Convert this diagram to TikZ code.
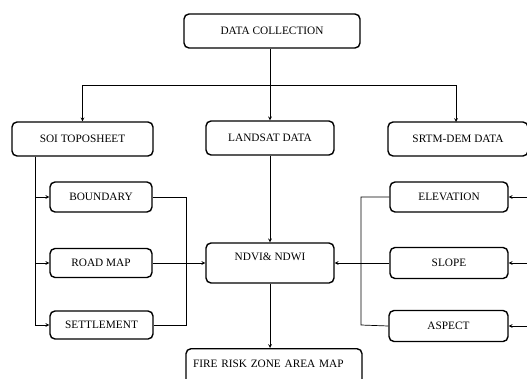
\documentclass[tikz,border=0pt]{standalone}
\usepackage{fontspec}
\setmainfont{Liberation Serif}
\usepackage{tikz}

\begin{document}
\begin{tikzpicture}[x=1pt,y=-1pt,
        box/.style={draw,line width=1.4pt,rounded corners=5pt,inner sep=0pt,
            font=\fontsize{11.3}{13}\selectfont},
        line/.style={line width=0.7pt},
        arr/.style={line,-stealth}]
        \pgfmathsetmacro\lbus{35}
        \pgfmathsetmacro\lmid{186}
        \pgfmathsetmacro\rmid{361}
        \pgfmathsetmacro\rbus{530}
        \useasboundingbox (0,0) rectangle (527,378);
        \node[box,minimum width=176pt,minimum height=34pt] (DC) at (272,31) {DATA COLLECTION};
        \node[box,minimum width=141pt,minimum height=34pt] (SOI) at (82.5,139) {SOI TOPOSHEET};
        \node[box,minimum width=128pt,minimum height=34pt] (LAND) at (270,138) {LANDSAT DATA};
        \node[box,minimum width=140pt,minimum height=34pt] (SRTM) at (458,139) {SRTM-DEM DATA};
        \node[box,minimum width=102pt,minimum height=30pt] (BOUND) at (101,197) {BOUNDARY};
        \node[box,minimum width=102pt,minimum height=29pt] (ROAD) at (101,263) {ROAD MAP};
        \node[box,minimum width=103pt,minimum height=28pt] (SETTLE) at (101.5,325) {SETTLEMENT};
        \node[box,minimum width=128pt,minimum height=40pt,text depth=12pt] (NDVI) at (270,263) {NDVI\& NDWI};
        \node[box,minimum width=118pt,minimum height=30pt] (ELEV) at (449,197) {ELEVATION};
        \node[box,minimum width=118pt,minimum height=31pt] (SLOPE) at (449,263) {SLOPE};
        \node[box,minimum width=119pt,minimum height=31pt] (ASPECT) at (448.5,326) {ASPECT};
        \node[box,anchor=north,minimum width=176pt,minimum height=44pt,text width=162pt,
            align=left,text depth=14pt] (FIRE) at (274,348) {FIRE RISK ZONE AREA MAP};
        \coordinate (split) at (270,85);
        % top level
        \draw[line] (DC.south -| split) -- (split);
        \draw[arr] (split) -- (LAND.north);
        \draw[arr] (split) -| (SOI.north);
        \draw[arr] (split) -| (456,122);
        % toposheet layers
        \draw[arr] (SOI.south -| \lbus,0) |- (BOUND.west);
        \draw[arr] (SOI.south -| \lbus,0) |- (ROAD.west);
        \draw[arr] (SOI.south -| \lbus,0) |- (SETTLE.west);
        \draw[line] (BOUND.east) -| (\lmid,325) -- (SETTLE.east);
        \draw[arr] (ROAD.east) -- (NDVI.west);
        % dem layers
        \draw[arr] (ELEV.east -| \rbus,0) -- (ELEV.east);
        \draw[arr] (SLOPE.east -| \rbus,0) -- (SLOPE.east);
        \draw[arr] (ASPECT.east -| \rbus,0) -- (ASPECT.east);
        \draw[line] (ELEV.west) -| (\rmid,325) -- (ASPECT.west);
        \draw[arr] (SLOPE.west) -- (NDVI.east);
        % output
        \draw[arr] (LAND.south) -- (NDVI.north);
        \draw[arr] (NDVI.south) -- (FIRE.north -| NDVI.south);
    \end{tikzpicture}
\end{document}
